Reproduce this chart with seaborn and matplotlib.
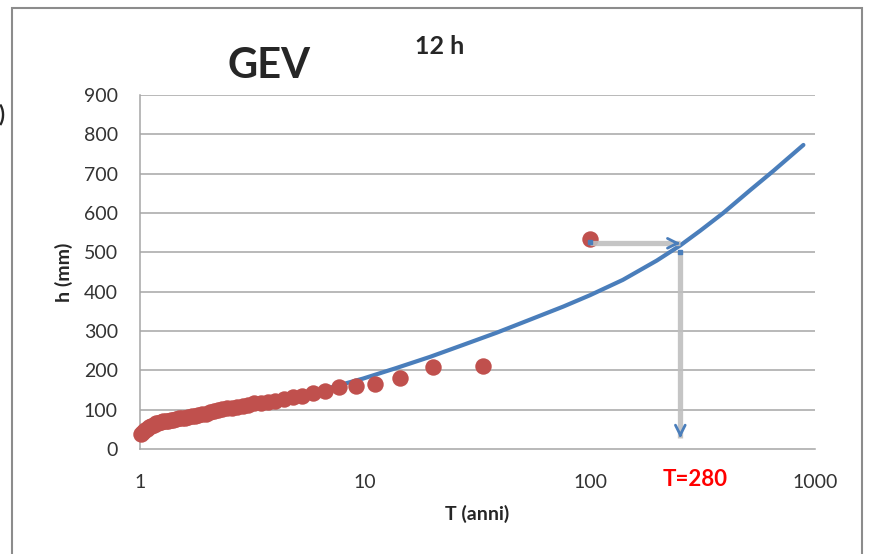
import matplotlib
matplotlib.use("Agg")
import matplotlib.pyplot as plt
import seaborn as sns
import pandas as pd
from matplotlib.patches import Rectangle

# Observed data (return period T in years, height h in mm)
obs_T = [1.010, 1.031, 1.053, 1.075, 1.099, 1.124, 1.149, 1.176, 1.205, 1.235,
         1.266, 1.299, 1.333, 1.370, 1.408, 1.449, 1.493, 1.538, 1.587, 1.639,
         1.695, 1.754, 1.818, 1.887, 1.961, 2.041, 2.128, 2.222, 2.326, 2.439,
         2.564, 2.703, 2.857, 3.030, 3.226, 3.448, 3.704, 4.000, 4.348, 4.762,
         5.263, 5.882, 6.667, 7.692, 9.091, 11.11, 14.29, 20.00, 33.33, 100.0]
obs_h = [38, 44, 48, 52, 56, 59, 62, 65, 67, 69,
         70, 71, 72, 73, 74, 76, 78, 79, 80, 81,
         83, 85, 87, 88, 90, 94, 97, 99, 101, 103,
         105, 108, 110, 113, 116, 118, 120, 123, 126, 131,
         135, 143, 147, 157, 160, 165, 180, 208, 211, 534]

# GEV fitted curve
fit_T = [1.01, 1.5, 2.0, 3.0, 5.0, 7.0, 9.8, 13.8, 19.4, 27.4, 38.6, 54.2, 76.0,
         100.0, 140.0, 198.0, 251.0, 309.0, 391.0, 515.0, 653.0, 888.0]
fit_h = [40, 78, 93, 113, 137, 156, 179, 206, 234, 265, 296, 329, 362,
         391, 430, 479, 517, 555, 600, 658, 707, 773]

# Reading of T for the observed maximum
arrow_T_start = 100.0
arrow_T_end = 252.0
arrow_h = 523
vert_h_top = 501
vert_h_bottom = 28

x_ticks = [1, 10, 100, 1000]
x_tick_labels = ["1", "10", "100", "1000"]
y_ticks = [0, 100, 200, 300, 400, 500, 600, 700, 800, 900]

obs = pd.DataFrame({"T": obs_T, "h": obs_h})
fit = pd.DataFrame({"T": fit_T, "h": fit_h})

sns.set_style("white")
plt.rcParams["font.family"] = ["Lato", "DejaVu Sans"]

fig = plt.figure(figsize=(8.69, 5.54), dpi=100)
ax = fig.add_axes([140 / 869, 1 - 449 / 554, 675 / 869, 354 / 554])

# chart frame
fig.patches.append(Rectangle((12 / 869, -0.05), 850 / 869, 1.05 - 8 / 554,
                             transform=fig.transFigure, fill=False,
                             edgecolor="#8c8c8c", linewidth=1.5))
fig.text(-0.002, 1 - 115 / 554, ")", fontsize=16, fontweight="bold",
         ha="left", va="center")

ax.set_xscale("log")
ax.set_xlim(1, 1000)
ax.set_ylim(0, 900)

for y in y_ticks[1:]:
    ax.axhline(y, color="#a6a6a6", linewidth=1.1, zorder=0)

sns.lineplot(data=fit, x="T", y="h", ax=ax, color="#4a7ebb", linewidth=3,
             sort=False, zorder=2)
sns.scatterplot(data=obs, x="T", y="h", ax=ax, color="#c0504d", s=140,
                edgecolor="#c0504d", linewidth=0, zorder=3, clip_on=False)

# arrows
ax.plot([arrow_T_start, arrow_T_end], [arrow_h, arrow_h], color="#bfbfbf",
        linewidth=3.8, alpha=0.9, zorder=4, solid_capstyle="butt")
ax.plot([arrow_T_end, arrow_T_end], [vert_h_top, vert_h_bottom], color="#bfbfbf",
        linewidth=3.8, alpha=0.9, zorder=4, solid_capstyle="butt")
ax.annotate("", xy=(arrow_T_end, arrow_h), xytext=(-3, 0), textcoords="offset points",
            arrowprops=dict(arrowstyle="->,head_length=0.7,head_width=0.35",
                            color="#4a7ebb", lw=2, shrinkA=0, shrinkB=0), zorder=5)
ax.annotate("", xy=(arrow_T_end, vert_h_bottom), xytext=(0, 3), textcoords="offset points",
            arrowprops=dict(arrowstyle="->,head_length=0.7,head_width=0.35",
                            color="#4a7ebb", lw=2, shrinkA=0, shrinkB=0), zorder=5)
ax.plot([arrow_T_start], [arrow_h + 4], marker="s", color="#4a7ebb", markersize=2.5, zorder=6)
ax.plot([arrow_T_end], [vert_h_top], marker="s", color="#4a7ebb", markersize=2.5, zorder=6)

# axes styling
for side in ["top", "right"]:
    ax.spines[side].set_visible(False)
ax.spines["left"].set_color("#a6a6a6")
ax.spines["bottom"].set_color("#a6a6a6")
ax.spines["left"].set_linewidth(1.1)
ax.spines["bottom"].set_linewidth(1.1)
ax.set_yticks(y_ticks)
ax.set_xticks(x_ticks)
ax.set_xticklabels(x_tick_labels)
ax.minorticks_off()
ax.tick_params(axis="both", which="major", direction="out", color="#a6a6a6",
               length=7, width=1.1, labelsize=14, labelcolor="#333333")
ax.tick_params(axis="x", pad=11)
ax.tick_params(axis="y", pad=9)

ax.set_xlabel("T (anni)", fontsize=14, fontweight="bold", labelpad=10)
ax.set_ylabel("h (mm)", fontsize=14, fontweight="bold", labelpad=8)

fig.text(269 / 869, 1 - 66 / 554, "GEV", fontsize=30, fontweight="bold",
         ha="center", va="center")
fig.text(440 / 869, 1 - 47 / 554, "12 h", fontsize=18, fontweight="bold",
         ha="center", va="center")
fig.text(695 / 869, 1 - 480 / 554, "T=280", fontsize=16, fontweight="bold",
         color="#ff0000", ha="center", va="center")

fig.savefig("out.png", dpi=100)
